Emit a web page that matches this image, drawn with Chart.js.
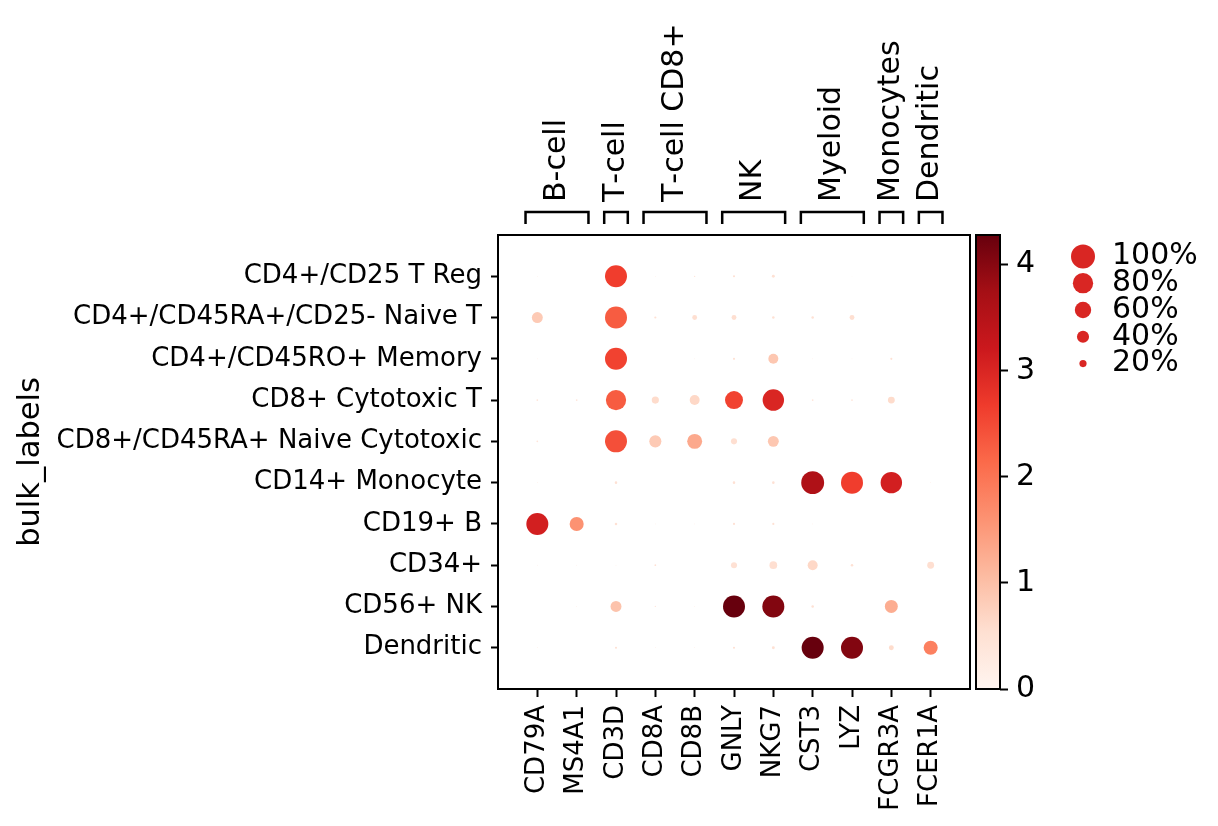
<!DOCTYPE html>
<html>
<head>
<meta charset="utf-8">
<script src="https://cdn.jsdelivr.net/npm/chart.js@4.4.1/dist/chart.umd.min.js"></script>
<style>
  body { margin: 0; background: #fff; }
  #wrap { position: relative; width: 1218px; height: 826px; }
  canvas { position: absolute; }
</style>
</head>
<body>
<div id="wrap">
  <canvas id="dots" width="1218" height="826" style="left:0;top:0"></canvas>
  <canvas id="cbar" width="100" height="516" style="left:950px;top:209px"></canvas>
  <canvas id="sizes" width="168" height="170" style="left:1050px;top:225px"></canvas>
</div>
<script>
// genes on x, cell types on y
var genes = ['CD79A','MS4A1','CD3D','CD8A','CD8B','GNLY','NKG7','CST3','LYZ','FCGR3A','FCER1A'];
var cellTypes = ['CD4+/CD25 T Reg','CD4+/CD45RA+/CD25- Naive T','CD4+/CD45RO+ Memory',
  'CD8+ Cytotoxic T','CD8+/CD45RA+ Naive Cytotoxic','CD14+ Monocyte','CD19+ B',
  'CD34+','CD56+ NK','Dendritic'];

// marker gene groups (first / last gene index)
var groupLabels = ['B-cell','T-cell','T-cell CD8+','NK','Myeloid','Monocytes','Dendritic'];
var groupStart = [0,2,3,5,7,9,10];
var groupEnd   = [1,2,4,6,8,9,10];

// fraction of cells in group (%)
var fractionExpressed = [
  [1, 0, 89, 1, 2, 4, 6, 0, 0.5, 0, 0],
  [35, 0, 89, 4, 12, 12, 5, 5, 12, 0, 0],
  [1, 0, 89, 0, 1, 4, 31, 1, 1, 4, 0],
  [3, 3, 80, 20, 31, 68, 86, 3, 3, 19, 0],
  [3, 0, 89, 40, 53, 16, 35, 0, 0, 0, 0],
  [1, 0, 5, 0, 0, 5, 5, 94, 89, 86, 1],
  [89, 49, 5, 1, 1, 4, 4, 1, 0, 0, 0],
  [1, 1, 1, 3, 0, 16, 22, 31, 5, 0, 19],
  [0, 1, 35, 2, 1, 89, 89, 5, 0, 44, 0],
  [1, 0, 4, 1, 1, 4, 6, 89, 89, 12, 49]
];
// mean expression in group
var meanExpression = [
  [0.4, 0, 2.65, 0.4, 0.5, 0.5, 0.5, 0, 0.4, 0, 0],
  [0.85, 0, 2.3, 0.5, 0.55, 0.55, 0.5, 0.5, 0.55, 0, 0],
  [0.4, 0, 2.6, 0, 0.4, 0.5, 0.9, 0.4, 0.4, 0.5, 0],
  [0.4, 0.4, 2.3, 0.6, 0.65, 2.6, 3.0, 0.4, 0.4, 0.6, 0],
  [0.4, 0, 2.45, 0.85, 1.3, 0.55, 0.9, 0, 0, 0, 0],
  [0.4, 0, 0.5, 0, 0, 0.5, 0.5, 3.6, 2.65, 3.1, 0.4],
  [3.1, 1.6, 0.5, 0.4, 0.4, 0.5, 0.5, 0.4, 0, 0, 0],
  [0.4, 0.4, 0.4, 0.5, 0, 0.5, 0.55, 0.65, 0.5, 0, 0.55],
  [0, 0.4, 0.95, 0.4, 0.4, 4.28, 4.05, 0.5, 0, 1.25, 0],
  [0.4, 0, 0.5, 0.4, 0.4, 0.5, 0.5, 4.28, 4.05, 0.6, 1.85]
];

var vmax = 4.28;
var colorTicks = [0, 1, 2, 3, 4];
var sizeLegend = [100, 80, 60, 40, 20];

var reds = ['#fff5f0','#fee0d2','#fcbba1','#fc9272','#fb6a4a','#ef3b2c','#cb181d','#a50f15','#67000d'];
function hex(c) { return [1,3,5].map(function(i){ return parseInt(c.substr(i,2),16); }); }
function redsAt(t) {
  t = Math.max(0, Math.min(1, t)) * (reds.length - 1);
  var i = Math.min(Math.floor(t), reds.length - 2), f = t - i;
  var a = hex(reds[i]), b = hex(reds[i+1]);
  return 'rgb(' + a.map(function(v,k){ return Math.round(v + (b[k]-v)*f); }).join(',') + ')';
}
function dotRadius(pct) { return 12 * Math.pow(pct / 100, 0.75); }

Chart.defaults.font.family = 'DejaVu Sans';
Chart.defaults.color = '#000';
Chart.defaults.animation = false;

var points = [];
cellTypes.forEach(function(ct, i) {
  genes.forEach(function(g, j) {
    if (fractionExpressed[i][j] > 0)
      points.push({x: j, y: i, r: dotRadius(fractionExpressed[i][j]), v: meanExpression[i][j]});
  });
});

var frame = {
  id: 'frame',
  afterDraw: function(chart) {
    var c = chart.ctx, a = chart.chartArea;
    c.save();
    c.strokeStyle = '#000';
    c.lineWidth = 2;
    c.strokeRect(a.left, a.top, a.right - a.left, a.bottom - a.top);
    c.restore();
  }
};

var brackets = {
  id: 'brackets',
  afterDraw: function(chart) {
    var c = chart.ctx, xs = chart.scales.x;
    c.save();
    c.strokeStyle = '#000';
    c.lineWidth = 2.5;
    c.fillStyle = '#000';
    c.font = '30px "DejaVu Sans"';
    groupLabels.forEach(function(lab, k) {
      var x0 = xs.getPixelForValue(groupStart[k] - 0.3);
      var x1 = xs.getPixelForValue(groupEnd[k] + 0.3);
      c.beginPath();
      c.moveTo(x0, 224); c.lineTo(x0, 212); c.lineTo(x1, 212); c.lineTo(x1, 224);
      c.stroke();
      c.save();
      c.translate((x0 + x1) / 2, 202);
      c.rotate(-Math.PI / 2);
      c.textAlign = 'left';
      c.textBaseline = 'middle';
      // one glyph at a time, unkerned like matplotlib
      var pos = 0;
      lab.split('').forEach(function(ch) {
        c.fillText(ch, pos, 0);
        pos += c.measureText(ch).width;
      });
      c.restore();
    });
    c.restore();
  }
};

new Chart(document.getElementById('dots'), {
  type: 'bubble',
  data: { datasets: [{
    data: points,
    backgroundColor: function(ctx) { return ctx.raw ? redsAt(ctx.raw.v / vmax) : '#000'; },
    borderWidth: 0,
    hoverBorderWidth: 0
  }]},
  options: {
    responsive: false,
    events: [],
    layout: { padding: { top: 235, right: 248, left: 0, bottom: 0 } },
    plugins: { legend: { display: false }, tooltip: { enabled: false } },
    scales: {
      x: {
        type: 'linear', min: -1, max: 11,
        afterBuildTicks: function(s) { s.ticks = genes.map(function(g, i){ return {value: i}; }); },
        afterFit: function(s) { s.height = 137; },
        ticks: { callback: function(v) { return genes[v]; }, font: {size: 26},
                 minRotation: 90, maxRotation: 90, autoSkip: false, padding: 8 },
        grid: { drawOnChartArea: false, tickLength: 8, tickWidth: 2, tickColor: '#000' },
        border: { display: false }
      },
      y: {
        type: 'linear', min: -1, max: 10, reverse: true,
        afterBuildTicks: function(s) { s.ticks = cellTypes.map(function(c, i){ return {value: i}; }); },
        afterFit: function(s) { s.width = 498; },
        ticks: { callback: function(v) { return cellTypes[v]; }, font: {size: 26}, padding: 9, autoSkip: false },
        grid: { drawOnChartArea: false, tickLength: 7, tickWidth: 2, tickColor: '#000' },
        border: { display: false },
        title: { display: true, text: 'bulk_labels', font: {size: 30.5}, padding: {top: 13, bottom: 0} }
      }
    }
  },
  plugins: [frame, brackets]
});

// colorbar
new Chart(document.getElementById('cbar'), {
  type: 'bar',
  data: { labels: ['mean'], datasets: [{
    data: [[0, vmax]],
    barPercentage: 1, categoryPercentage: 1, borderWidth: 0,
    backgroundColor: function(ctx) {
      var a = ctx.chart.chartArea;
      if (!a) return reds[4];
      var g = ctx.chart.ctx.createLinearGradient(0, a.bottom, 0, a.top);
      reds.forEach(function(col, i) { g.addColorStop(i / (reds.length - 1), col); });
      return g;
    }
  }]},
  options: {
    responsive: false,
    events: [],
    layout: { padding: { left: 26, top: 0, bottom: 36, right: 0 } },
    plugins: { legend: { display: false }, tooltip: { enabled: false } },
    scales: {
      x: { display: false },
      y: {
        position: 'right', min: 0, max: vmax,
        afterBuildTicks: function(s) { s.ticks = colorTicks.map(function(v){ return {value: v}; }); },
        afterFit: function(s) { s.width = 50; },
        ticks: { font: {size: 30}, padding: 8 },
        grid: { drawOnChartArea: false, tickLength: 8, tickWidth: 2, tickColor: '#000' },
        border: { display: false }
      }
    }
  },
  plugins: [frame]
});

// dot size legend
new Chart(document.getElementById('sizes'), {
  type: 'bubble',
  data: { datasets: [{
    data: sizeLegend.map(function(p, i){ return {x: 0, y: i, r: dotRadius(p)}; }),
    backgroundColor: redsAt(0.7),
    borderWidth: 0
  }]},
  options: {
    responsive: false,
    events: [],
    layout: { padding: { left: 10, top: 0, bottom: 0, right: 0 } },
    plugins: { legend: { display: false }, tooltip: { enabled: false } },
    scales: {
      x: { display: false, min: -1, max: 1 },
      y: {
        position: 'right', min: -0.5, max: 4.5, reverse: true,
        afterBuildTicks: function(s) { s.ticks = sizeLegend.map(function(p, i){ return {value: i}; }); },
        afterFit: function(s) { s.width = 114; },
        ticks: { callback: function(v) { return sizeLegend[v] + '%'; }, font: {size: 30},
                 padding: 0, autoSkip: false },
        grid: { display: false },
        border: { display: false }
      }
    }
  }
});
</script>
</body>
</html>
